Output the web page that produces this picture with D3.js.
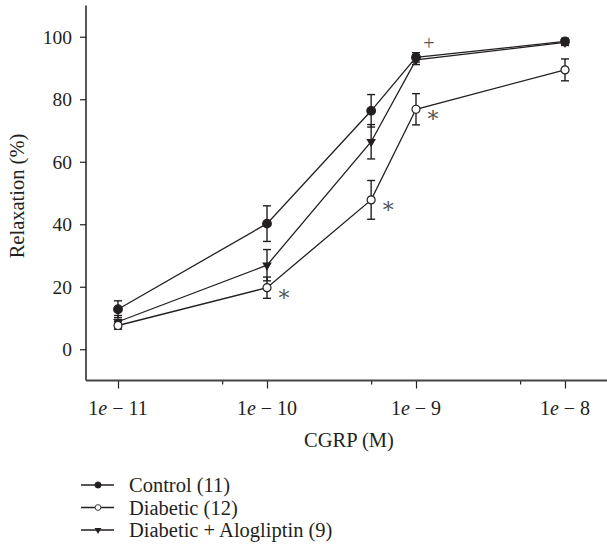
<!DOCTYPE html>
<html>
<head>
<meta charset="utf-8">
<script src="https://cdn.jsdelivr.net/npm/d3@7"></script>
<style>
body { margin: 0; background: #fff; }
text { font-family: "Liberation Serif", "DejaVu Serif", serif; fill: #231f20; }
</style>
</head>
<body>
<svg width="607" height="554"></svg>
<script>
// concentrations (M) and tick values
var doses = [1e-11, 1e-10, 5e-10, 1e-9, 1e-8];
var majorTicks = [1e-11, 1e-10, 1e-9, 1e-8];
var minorTicks = [5e-11, 5e-10, 5e-9];
var yTicks = [0, 20, 40, 60, 80, 100];

// mean relaxation (%) and error per group
var controlMean = [12.8, 40.2, 76.3, 93.4, 98.5];
var controlErr = [2.7, 5.7, 5.2, 1.5, 1.0];
var diabeticMean = [7.6, 19.7, 47.8, 76.8, 89.4];
var diabeticErr = [1.2, 3.4, 6.2, 5.0, 3.5];
var alogMean = [8.8, 26.9, 66.4, 92.6, 98.2];
var alogErr = [2.0, 5.0, 5.5, 1.5, 1.0];

var seriesNames = ["Control (11)", "Diabetic (12)", "Diabetic + Alogliptin (9)"];

// significance marks: [dose, value, symbol]
var marks = [[1e-10, 19.7, "\u2217"], [5e-10, 47.8, "\u2217"], [1e-9, 76.8, "\u2217"], [1e-9, 93.4, "+"]];

var svg = d3.select("svg");

var xScale = d3.scaleLog()
               .domain([1e-11, 1e-8])
               .range([118, 565]);
var yScale = d3.scaleLinear()
               .domain([-10, 110])
               .range([380.5, 5.5]);

var series = [
  {name: seriesNames[0], mean: controlMean, err: controlErr, shape: "dot"},
  {name: seriesNames[1], mean: diabeticMean, err: diabeticErr, shape: "open"},
  {name: seriesNames[2], mean: alogMean, err: alogErr, shape: "tri"}
];

//axes
var yAxis = d3.axisLeft(yScale).tickValues(yTicks).tickSize(6).tickPadding(8);
var yg = svg.append("g")
   .attr("transform", "translate(86,0)")
   .call(yAxis);
yg.select(".domain").remove();
yg.selectAll(".tick line").attr("stroke", "#231f20").attr("stroke-width", 1.2);
yg.selectAll(".tick text").attr("font-size", 19.5).attr("font-family", null);

svg.append("line")
   .attr("x1", 86).attr("x2", 86)
   .attr("y1", yScale(110)).attr("y2", yScale(-10))
   .attr("stroke", "#231f20").attr("stroke-width", 1.5);

var xAxis = d3.axisBottom(xScale).tickValues(majorTicks).tickSize(8).tickFormat("");
var xg = svg.append("g")
   .attr("transform", "translate(0," + yScale(-10) + ")")
   .call(xAxis);
xg.select(".domain").remove();
xg.selectAll(".tick line").attr("stroke", "#231f20").attr("stroke-width", 1.2);

var xMinor = d3.axisBottom(xScale).tickValues(minorTicks).tickSize(4).tickFormat("");
var xm = svg.append("g")
   .attr("transform", "translate(0," + yScale(-10) + ")")
   .call(xMinor);
xm.select(".domain").remove();
xm.selectAll(".tick line").attr("stroke", "#231f20").attr("stroke-width", 1.2);

svg.append("line")
   .attr("x1", 86).attr("x2", 607)
   .attr("y1", yScale(-10)).attr("y2", yScale(-10))
   .attr("stroke", "#444").attr("stroke-width", 1.8);

// tick labels like "1e − 11"
var xLabels = svg.append("g").selectAll("text")
   .data(majorTicks)
   .enter()
   .append("text")
   .attr("x", function(d) { return xScale(d); })
   .attr("y", 415)
   .attr("text-anchor", "middle")
   .attr("font-size", 20);
xLabels.append("tspan").text("1");
xLabels.append("tspan").attr("font-style", "italic").text("e");
xLabels.append("tspan").text(function(d) { return " \u2212 " + Math.round(-Math.log10(d)); });

svg.append("text")
   .attr("x", 349).attr("y", 447)
   .attr("text-anchor", "middle")
   .attr("font-size", 20.5)
   .text("CGRP (M)");

svg.append("text")
   .attr("transform", "translate(24,196) rotate(-90)")
   .attr("text-anchor", "middle")
   .attr("font-size", 20.5)
   .text("Relaxation (%)");

var line = d3.line()
   .x(function(d) { return xScale(d.x); })
   .y(function(d) { return yScale(d.y); });

var tri = d3.symbol().type(d3.symbolTriangle).size(40);

function drawMarker(g, shape) {
  if (shape == "tri") {
    g.append("path").attr("d", tri).attr("transform", "rotate(180)").attr("fill", "#231f20");
  } else {
    g.append("circle").attr("r", shape == "dot" ? 4.3 : 4)
     .attr("fill", shape == "dot" ? "#231f20" : "#fff")
     .attr("stroke", "#231f20").attr("stroke-width", 1.2);
  }
}

// draw the open (diabetic) series last so its circles stay visible
[2, 0, 1].forEach(function(k) {
  var s = series[k];
  var pts = doses.map(function(d, i) { return {x: d, y: s.mean[i], e: s.err[i]}; });
  var g = svg.append("g");
  g.append("path")
   .datum(pts)
   .attr("d", line)
   .attr("fill", "none")
   .attr("stroke", "#231f20")
   .attr("stroke-width", 1.3);

  var eb = g.selectAll(".err")
   .data(pts)
   .enter()
   .append("g");
  eb.append("line")
    .attr("x1", function(d) { return xScale(d.x); })
    .attr("x2", function(d) { return xScale(d.x); })
    .attr("y1", function(d) { return yScale(d.y + d.e); })
    .attr("y2", function(d) { return yScale(d.y - d.e); })
    .attr("stroke", "#231f20").attr("stroke-width", 1.4);
  [1, -1].forEach(function(sg) {
    eb.append("line")
      .attr("x1", function(d) { return xScale(d.x) - 4; })
      .attr("x2", function(d) { return xScale(d.x) + 4; })
      .attr("y1", function(d) { return yScale(d.y + sg * d.e); })
      .attr("y2", function(d) { return yScale(d.y + sg * d.e); })
      .attr("stroke", "#231f20").attr("stroke-width", 1.4);
  });

  var m = g.selectAll(".mk")
   .data(pts)
   .enter()
   .append("g")
   .attr("transform", function(d) { return "translate(" + xScale(d.x) + "," + yScale(d.y) + ")"; });
  drawMarker(m, s.shape);
});

svg.append("g").selectAll("text")
   .data(marks)
   .enter()
   .append("text")
   .attr("x", function(d) { return xScale(d[0]) + (d[2] == "+" ? 13 : 17); })
   .attr("y", function(d) { return yScale(d[1]) + (d[2] == "+" ? -7 : 13); })
   .attr("text-anchor", "middle")
   .attr("font-family", function(d) { return d[2] == "+" ? null : "DejaVu Sans"; })
   .attr("font-weight", function(d) { return d[2] == "+" ? null : 200; })
   .attr("font-size", function(d) { return d[2] == "+" ? 20 : 22; })
   .style("fill", "#555")
   .text(function(d) { return d[2]; });

//legend
var legend = svg.append("g")
   .attr("transform", "translate(81,485)");
var legendLines = legend.selectAll("g")
   .data(series)
   .enter()
   .append("g")
   .attr("transform", function(d, i) { return "translate(0," + (i * 22.5) + ")"; });
legendLines.append("line")
   .attr("x1", 0).attr("x2", 33)
   .attr("stroke", "#231f20").attr("stroke-width", 1.3);
legendLines.each(function(d) {
  var mk = d3.select(this).append("g").attr("transform", "translate(17,0) scale(0.72)");
  drawMarker(mk, d.shape);
});
legendLines.append("text")
   .attr("x", 48)
   .attr("y", 7)
   .attr("font-size", 20.5)
   .text(function(d) { return d.name; });
</script>
</body>
</html>
